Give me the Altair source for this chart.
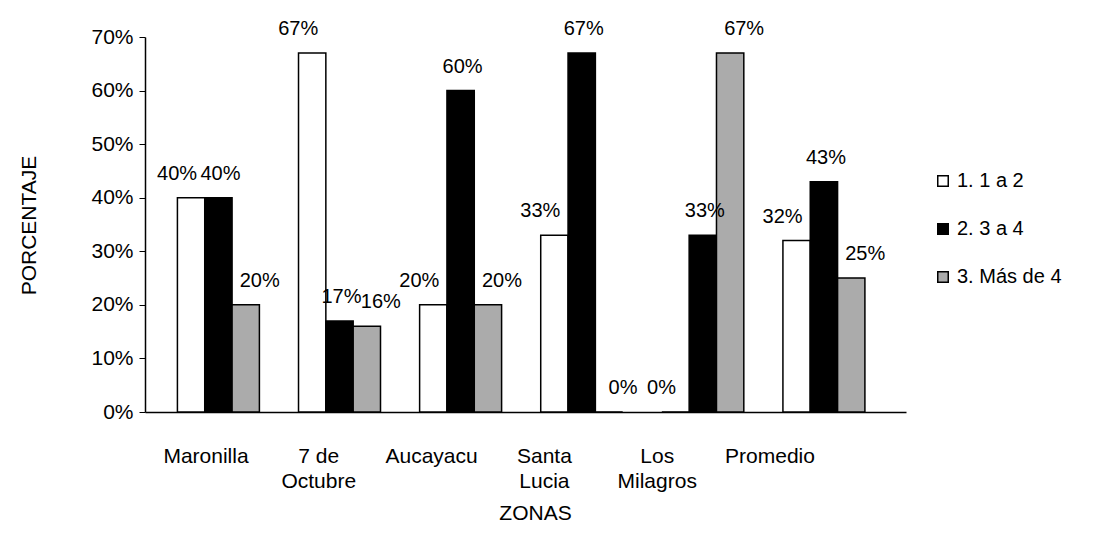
import altair as alt
import pandas as pd

zonas = ["Maronilla", "7 de Octubre", "Aucayacu", "Santa Lucia", "Los Milagros", "Promedio"]
zona_labels = ["Maronilla", "7 de\nOctubre", "Aucayacu", "Santa\nLucia", "Los\nMilagros", "Promedio"]
series = ["1. 1 a 2", "2. 3 a 4", "3. Más de 4"]
s1 = [0.40, 0.67, 0.20, 0.33, 0.00, 0.32]
s2 = [0.40, 0.17, 0.60, 0.67, 0.33, 0.43]
s3 = [0.20, 0.16, 0.20, 0.00, 0.67, 0.25]
colors = ["#ffffff", "#000000", "#ababab"]
label_dx = [-14, 2, 14]

rows = []
for vals, s in zip([s1, s2, s3], series):
    for z, lab, v in zip(zonas, zona_labels, vals):
        rows.append({"zona": lab, "serie": s, "valor": v})
df = pd.DataFrame(rows)

FONT = "Liberation Sans"
FS = 21
W, H = 761, 375

# category labels sit at the front edge of the (3-D) floor
x_axis = alt.X("zona:N", sort=zona_labels,
               scale=alt.Scale(type="band", paddingInner=0.28, paddingOuter=0.513, align=0.176),
               axis=alt.Axis(title="ZONAS", labelAngle=0, tickSize=0, labelPadding=33,
                             labelFontSize=FS, labelFont=FONT, labelColor="black",
                             labelLineHeight=25, labelExpr="split(datum.label, '\\n')",
                             titleFontSize=FS, titleFont=FONT, titleFontWeight="normal",
                             titleColor="black", titleX=390, titleY=101, titleBaseline="middle",
                             domainColor="black", domainWidth=1.5))
# columns stand further back, shifted right by the 3-D perspective
x_bars = alt.X("zona:N", sort=zona_labels,
               scale=alt.Scale(type="band", paddingInner=0.323, paddingOuter=0.3035, align=0.441),
               axis=None)
y = alt.Y("valor:Q", scale=alt.Scale(domain=[0, 0.7], nice=False),
          axis=alt.Axis(title="PORCENTAJE", format=".0%", values=[0, 0.1, 0.2, 0.3, 0.4, 0.5, 0.6, 0.7],
                        tickSize=6, tickColor="black", domainColor="black", domainWidth=1.5,
                        grid=False, labelFontSize=FS, labelFont=FONT, labelColor="black",
                        labelPadding=6, titleFontSize=FS, titleFont=FONT,
                        titleFontWeight="normal", titleColor="black",
                        titleX=-106, titleY=188, titleBaseline="bottom"))
xo = alt.XOffset("serie:N", sort=series, scale=alt.Scale(paddingInner=0, paddingOuter=0))

axis_layer = alt.Chart(df).mark_bar(opacity=0).encode(x=x_axis, y=y)

bars = alt.Chart(df).mark_bar(stroke="black", strokeWidth=1.5).encode(
    x=x_bars, y=y, xOffset=xo,
    color=alt.Color("serie:N", sort=series,
                    scale=alt.Scale(domain=series, range=colors),
                    legend=alt.Legend(title=None, orient="none", legendX=788, legendY=134,
                                      symbolType="square", symbolSize=110,
                                      symbolStrokeColor="black", symbolStrokeWidth=1.5,
                                      labelFontSize=20, labelFont=FONT, labelColor="black",
                                      rowPadding=28, labelOffset=4)),
)

text_parts = []
for s, d in zip(series, label_dx):
    text_parts.append(
        alt.Chart(df).transform_filter(alt.datum.serie == s).mark_text(
            fontSize=20, font=FONT, color="black", dy=-24, dx=d, baseline="middle"
        ).encode(x=x_bars, y=y, xOffset=xo, text=alt.Text("valor:Q", format=".0%"))
    )

chart = alt.layer(axis_layer, alt.layer(bars, *text_parts)).resolve_scale(
    x="independent"
).properties(
    width=W, height=H,
    autosize=alt.AutoSizeParams(type="none"),
    padding={"left": 137, "top": 29, "right": 190, "bottom": 115},
).configure_view(strokeWidth=0)

chart.save("out.html", embed_options={"renderer": "svg", "actions": False})
